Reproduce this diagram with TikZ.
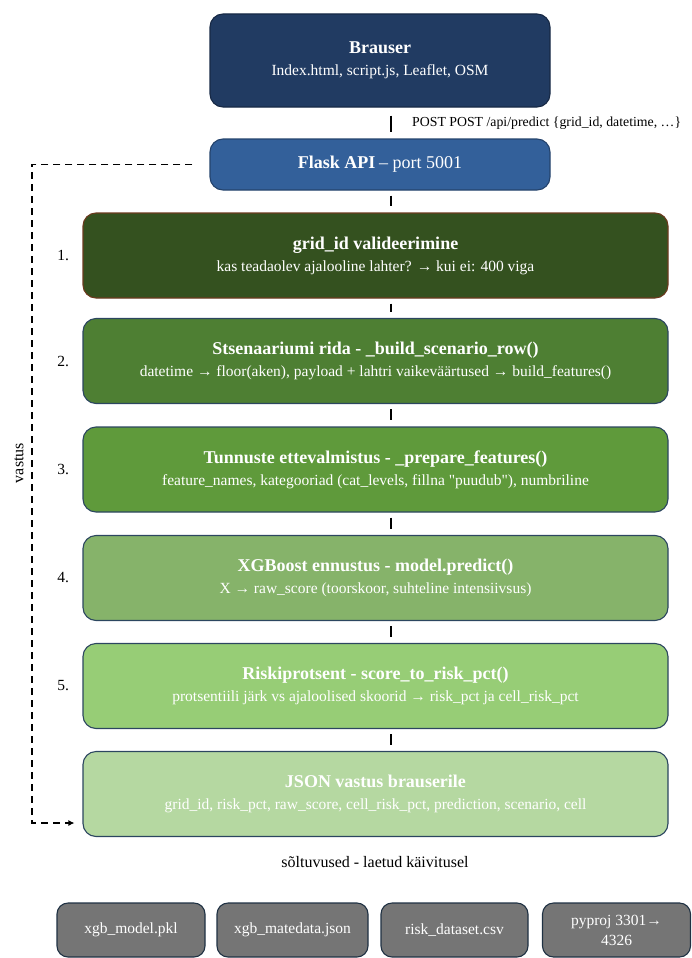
\documentclass[tikz,border=0pt]{standalone}
\usepackage{fontspec}
\setmainfont{Liberation Serif}
\newfontfamily\jmfont[Ligatures=TeXOff]{Liberation Serif}
\usetikzlibrary{positioning,arrows.meta}
\definecolor{brauserblue}{HTML}{213B62}
\definecolor{flaskblue}{HTML}{33609A}
\definecolor{kroka}{HTML}{34511F}
\definecolor{krokb}{HTML}{4E7F33}
\definecolor{krokc}{HTML}{5F9A3B}
\definecolor{krokd}{HTML}{86B36A}
\definecolor{kroke}{HTML}{97CD76}
\definecolor{krokf}{HTML}{B5D8A1}
\definecolor{soltgray}{HTML}{757575}
\definecolor{edgeblue}{HTML}{2C4660}
\definecolor{edgebrown}{HTML}{6B3A1E}
\tikzset{
  box/.style={draw=edgeblue, line width=1.1pt, rounded corners=13pt, text=white, align=center, inner sep=0pt, font=\fontsize{15.5}{22}\selectfont},
  stepbox/.style={box, minimum width=585pt, minimum height=85pt},
  depbox/.style={box, rounded corners=11pt, draw=edgeblue!70!black, fill=soltgray, minimum height=54pt, font=\fontsize{15.5}{20}\selectfont},
  nrlabel/.style={font=\fontsize{15.5}{18}\selectfont},
  spoj/.style={line width=1.8pt, shorten <=5pt, shorten >=6pt},
  vastusarrow/.style={line width=1.9pt, dash pattern=on 7pt off 5pt, -{Latex[length=6pt,width=6pt]}},
}
\newcommand{\pealk}[1]{{\fontsize{18}{22}\selectfont\bfseries #1}}
\newcommand{\jm}{{\jmfont"}}
\def\cn#1#2{\draw[spoj] (#1.south -| os) -- (#2.north -| os);}
\newcommand{\krok}[5][]{\node[stepbox,#1] (#2) at (375.5,#3) {\pealk{#4}\\#5};}
\newcommand{\nr}[2]{\node[nrlabel, left=10pt of #1.west] (nr#1) {#2.};}

\begin{document}
\begin{tikzpicture}[x=1pt,y=-1pt]
    \useasboundingbox (0,0) rectangle (691,958);
    \coordinate (os) at (391,0);
    \coordinate (ret) at (32,166);

    \node[box, fill=brauserblue, draw=brauserblue!70!black, minimum width=340pt, minimum height=93pt] (brauser) at (380,60.5) {\pealk{Brauser}\\Index.html, script.js, Leaflet, OSM};
    \node[box, fill=flaskblue, draw=flaskblue!70!black, minimum width=340pt, minimum height=51pt] (flask) at (380,164.5) {\pealk{Flask API} {\fontsize{18}{22}\selectfont – port 5001}};
    \draw[spoj, shorten <=8pt] (brauser.south -| os) -- node[right=17pt, font=\fontsize{13.8}{16}\selectfont] (post) {POST POST /api/predict \{grid\_id, datetime, …\}} (flask.north -| os);

    \krok[fill=kroka, draw=edgebrown]{valid}{255.5}{grid\_id valideerimine}{kas teadaolev ajalooline lahter? → kui ei: 400 viga} \cn{flask}{valid}
    \krok[fill=krokb]{rida}{361}{Stsenaariumi rida - \_build\_scenario\_row()}{datetime → floor(aken), payload + lahtri vaikeväärtused → build\_features()} \cn{valid}{rida}
    \krok[fill=krokc]{tunnused}{469.5}{Tunnuste ettevalmistus - \_prepare\_features()}{feature\_names, kategooriad (cat\_levels, fillna \jm puudub\jm), numbriline} \cn{rida}{tunnused}
    \krok[fill=krokd]{ennustus}{578}{XGBoost ennustus - model.predict()}{X → raw\_score (toorskoor, suhteline intensiivsus)} \cn{tunnused}{ennustus}
    \krok[fill=kroke]{riski}{686}{Riskiprotsent - score\_to\_risk\_pct()}{protsentiili järk vs ajaloolised skoorid → risk\_pct ja cell\_risk\_pct} \cn{ennustus}{riski}
    \krok[fill=krokf]{json}{794}{JSON vastus brauserile}{grid\_id, risk\_pct, raw\_score, cell\_risk\_pct, prediction, scenario, cell} \cn{riski}{json}

    \nr{valid}{1}
    \nr{rida}{2}
    \nr{tunnused}{3}
    \nr{ennustus}{4}
    \nr{riski}{5}

    % vastus tagasi brauserile
    \draw[vastusarrow] ([xshift=-17pt]flask.west) -- (flask.west -| ret) |- ([xshift=-8pt,yshift=-29pt]json.west);
    \node[nrlabel, font=\fontsize{16}{18}\selectfont, rotate=90] (vastus) at (19,463) {vastus};

    % soltuvused
    \node[nrlabel, font=\fontsize{16}{18}\selectfont] (solt) at (375,862) {sõltuvused - laetud käivitusel};
    \node[depbox, minimum width=148pt] (pkl) at (131,930) {xgb\_model.pkl};
    \node[depbox, minimum width=151pt] (meta) at (292.5,930) {xgb\_matedata.json};
    \node[depbox, minimum width=147pt] (csv) at (454.5,930) {risk\_dataset.csv};
    \node[depbox, minimum width=148pt] (pyproj) at (616.5,930) {pyproj 3301→\\4326};
\end{tikzpicture}
\end{document}
